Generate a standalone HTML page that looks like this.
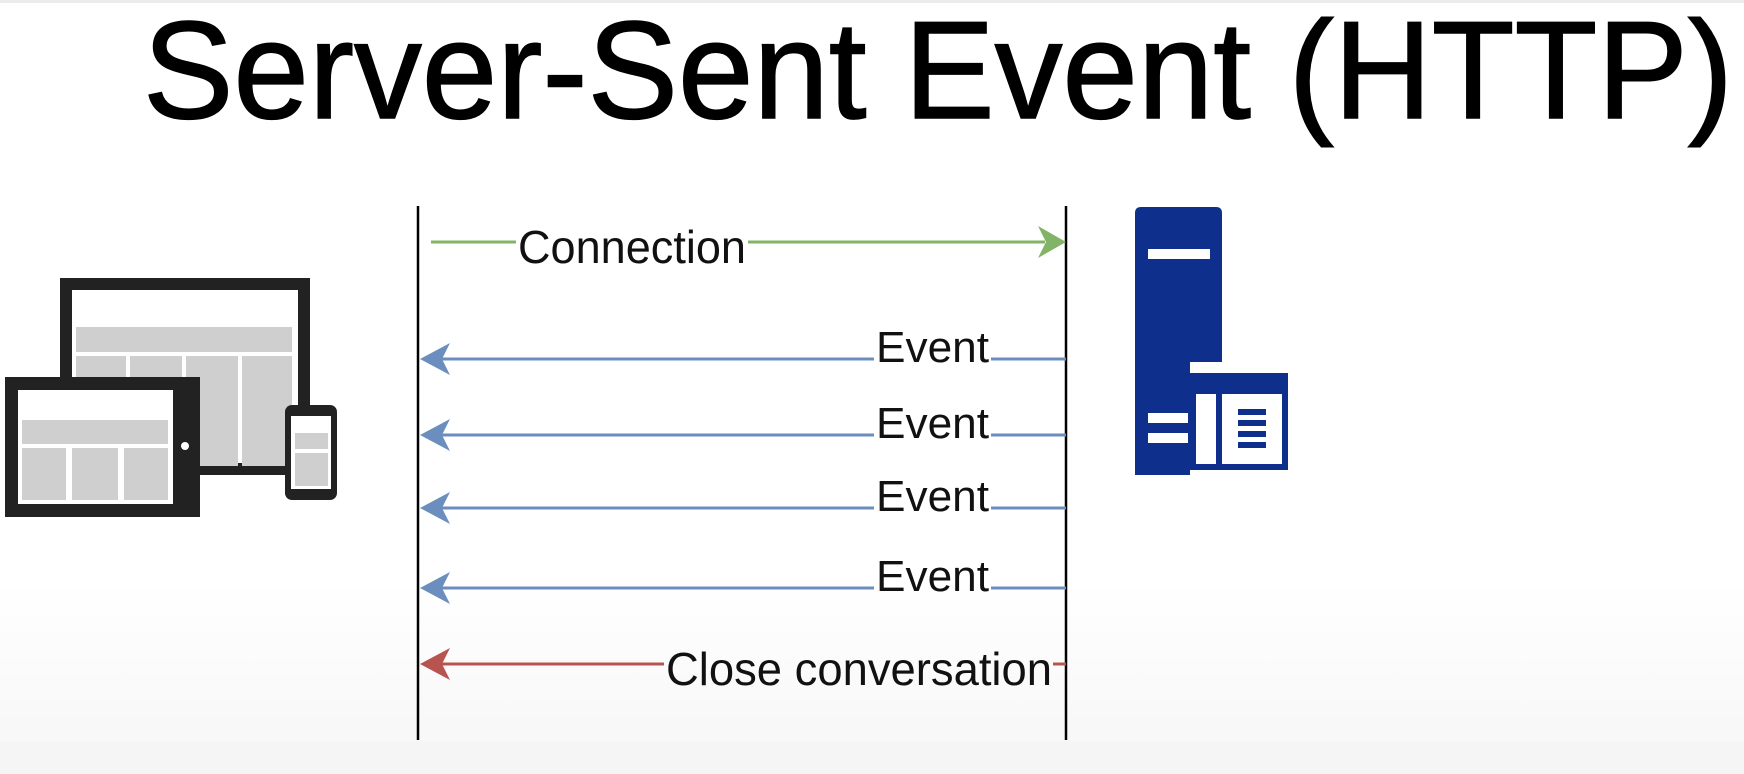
<!DOCTYPE html>
<html><head><meta charset="utf-8"><style>
html,body{margin:0;padding:0;width:1744px;height:774px;overflow:hidden;background:#fff;}
</style></head><body>
<svg width="1744" height="774" viewBox="0 0 1744 774" xmlns="http://www.w3.org/2000/svg" font-family="Liberation Sans, Arial, sans-serif">
<defs>
<linearGradient id="bg" x1="0" y1="0" x2="0" y2="1">
<stop offset="0" stop-color="#ffffff"/><stop offset="0.75" stop-color="#ffffff"/><stop offset="1" stop-color="#f6f6f6"/>
</linearGradient>
</defs>
<rect width="1744" height="774" fill="url(#bg)"/>
<rect y="0" width="1744" height="3" fill="#ececec"/>
<rect y="741" width="1744" height="33" fill="#f5f5f5"/>
<text x="143" y="118" font-size="139" fill="#000" stroke="#000" stroke-width="1.5" textLength="1590" lengthAdjust="spacingAndGlyphs">Server-Sent Event (HTTP)</text>

<line x1="418" y1="206" x2="418" y2="740" stroke="#000" stroke-width="2.5"/>
<line x1="1066" y1="206" x2="1066" y2="740" stroke="#000" stroke-width="2.5"/>

<line x1="431" y1="242" x2="516" y2="242" stroke="#82b366" stroke-width="3"/>
<line x1="748" y1="242" x2="1045" y2="242" stroke="#82b366" stroke-width="3"/>
<path d="M1066 242 L1038 226 L1046 242 L1038 258 Z" fill="#82b366"/>
<text x="518" y="263" font-size="46" fill="#111" textLength="228" lengthAdjust="spacingAndGlyphs">Connection</text>

<g fill="#6c8ebf" stroke="#6c8ebf">
<line x1="440" y1="359" x2="874" y2="359" stroke-width="3"/><line x1="991" y1="359" x2="1066" y2="359" stroke-width="3"/>
<path d="M420 359 L450 343 L442 359 L450 375 Z" stroke="none"/>
<line x1="440" y1="435" x2="874" y2="435" stroke-width="3"/><line x1="991" y1="435" x2="1066" y2="435" stroke-width="3"/>
<path d="M420 435 L450 419 L442 435 L450 451 Z" stroke="none"/>
<line x1="440" y1="508" x2="874" y2="508" stroke-width="3"/><line x1="991" y1="508" x2="1066" y2="508" stroke-width="3"/>
<path d="M420 508 L450 492 L442 508 L450 524 Z" stroke="none"/>
<line x1="440" y1="588" x2="874" y2="588" stroke-width="3"/><line x1="991" y1="588" x2="1066" y2="588" stroke-width="3"/>
<path d="M420 588 L450 572 L442 588 L450 604 Z" stroke="none"/>
</g>
<g font-size="44" fill="#111">
<text x="876" y="362" textLength="113" lengthAdjust="spacingAndGlyphs">Event</text>
<text x="876" y="438" textLength="113" lengthAdjust="spacingAndGlyphs">Event</text>
<text x="876" y="511" textLength="113" lengthAdjust="spacingAndGlyphs">Event</text>
<text x="876" y="591" textLength="113" lengthAdjust="spacingAndGlyphs">Event</text>
</g>

<line x1="440" y1="664" x2="664" y2="664" stroke="#b85450" stroke-width="3"/>
<line x1="1053" y1="664" x2="1066" y2="664" stroke="#b85450" stroke-width="3"/>
<path d="M420 664 L450 648 L442 664 L450 680 Z" fill="#b85450"/>
<text x="666" y="685" font-size="46" fill="#111" textLength="386" lengthAdjust="spacingAndGlyphs">Close conversation</text>

<g>
<rect x="66" y="284" width="238" height="185" fill="#fff" stroke="#222" stroke-width="12"/>
<rect x="76" y="327" width="216" height="25" fill="#cfcfcf"/>
<rect x="76" y="356" width="50" height="110" fill="#cfcfcf"/>
<rect x="130" y="356" width="52" height="110" fill="#cfcfcf"/>
<rect x="186" y="356" width="52" height="110" fill="#cfcfcf"/>
<rect x="242" y="356" width="50" height="110" fill="#cfcfcf"/>
<rect x="5" y="377" width="195" height="140" fill="#222"/>
<rect x="18" y="390" width="155" height="114" fill="#fff"/>
<rect x="22" y="420" width="146" height="24" fill="#cfcfcf"/>
<rect x="22" y="448" width="44" height="52" fill="#cfcfcf"/>
<rect x="72" y="448" width="46" height="52" fill="#cfcfcf"/>
<rect x="124" y="448" width="44" height="52" fill="#cfcfcf"/>
<circle cx="185" cy="446" r="4" fill="#fff"/>
<rect x="285" y="405" width="52" height="95" rx="7" fill="#222"/>
<rect x="291" y="416" width="40" height="73" fill="#fff"/>
<rect x="295" y="433" width="33" height="16" fill="#cfcfcf"/>
<rect x="295" y="453" width="33" height="33" fill="#cfcfcf"/>
</g>

<g fill="#0f2f8c">
<path d="M1141 207 H1216 Q1222 207 1222 213 V362 H1190 V475 H1135 V213 Q1135 207 1141 207 Z"/>
<rect x="1148" y="249" width="62" height="10" fill="#fff"/>
<rect x="1148" y="413" width="40" height="10" fill="#fff"/>
<rect x="1148" y="433" width="40" height="10" fill="#fff"/>
<rect x="1190" y="373" width="98" height="97"/>
<rect x="1196" y="394" width="20" height="70" fill="#fff"/>
<rect x="1222" y="394" width="60" height="70" fill="#fff"/>
<rect x="1238" y="409" width="28" height="6"/>
<rect x="1238" y="420" width="28" height="6"/>
<rect x="1238" y="431" width="28" height="6"/>
<rect x="1238" y="442" width="28" height="6"/>
</g>
</svg>
</body></html>
